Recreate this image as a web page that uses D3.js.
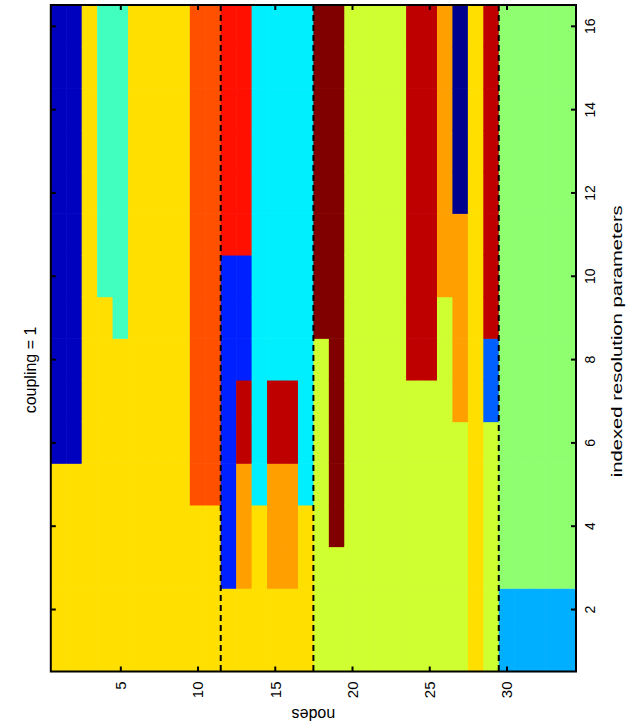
<!DOCTYPE html>
<html><head><meta charset="utf-8">
<script src="https://cdn.jsdelivr.net/npm/d3@7"></script>
<style>body{margin:0;background:#fff}svg{display:block}text{font-family:"Liberation Sans",Arial,sans-serif;fill:#000}</style>
</head><body><svg id="c" width="634" height="725"></svg>
<script>
// nodes and resolution indices
const nodes = [1,2,3,4,5,6,7,8,9,10,11,12,13,14,15,16,17,18,19,20,21,22,23,24,25,26,27,28,29,30,31,32,33,34];
const resolutions = [1,2,3,4,5,6,7,8,9,10,11,12,13,14,15,16];
// community assignment per node, one letter per resolution (1..16)
const assignments = [
  "JJJJJAAAAAAAAAAA","JJJJJAAAAAAAAAAA","JJJJJJJJJJJJJJJJ","JJJJJJJJJGGGGGGG","JJJJJJJJGGGGGGGG",
  "JJJJJJJJJJJJJJJJ","JJJJJJJJJJJJJJJJ","JJJJJJJJJJJJJJJJ","JJJJJJJJJJJJJJJJ","JJJJLLLLLLLLLLLL",
  "JJJJLLLLLLLLLLLL","JJCCCCCCCCMMMMMM","JJKKKNNCCCMMMMMM","JJJJFFFFFFFFFFFF","JJKKKNNFFFFFFFFF",
  "JJKKKNNFFFFFFFFF","JJJJFFFFFFFFFFFF","IIIIIIIIOOOOOOOO","IIIOOOOOOOOOOOOO","IIIIIIIIIIIIIIII",
  "IIIIIIIIIIIIIIII","IIIIIIIIIIIIIIII","IIIIIIIIIIIIIIII","IIIIIIINNNNNNNNN","IIIIIIINNNNNNNNN",
  "IIIIIIIIIKKKKKKK","IIIIIIKKKKKBBBBB","JJJJJJJJJJJJJJJJ","IIIIIIDDNNNNNNNN","EEHHHHHHHHHHHHHH",
  "EEHHHHHHHHHHHHHH","EEHHHHHHHHHHHHHH","EEHHHHHHHHHHHHHH","EEHHHHHHHHHHHHHH"
];
const communityCodes = ["A","B","C","D","E","F","G","H","I","J","K","L","M","N","O"];
const communityColors = ["#0000bf","#00008f","#0020ff","#0060ff","#00afff","#00efff","#40ffbf","#8fff70","#cfff30","#ffdf00","#ff9f00","#ff5000","#ff1000","#bf0000","#800000"];
const boundaries = [11.5, 17.5, 29.5];
const xTicks = [5,10,15,20,25,30];
const yTicks = [2,4,6,8,10,12,14,16];
const title = "coupling = 1";
const xLabel = "nodes";
const yLabel = "indexed resolution parameters";

const svg = d3.select("#c");
const L = 50.8, R = 576, T = 5, B = 671.5;
const x = d3.scaleLinear().domain([0.5, 34.5]).range([L, R]);
const y = d3.scaleLinear().domain([0.5, 16.5]).range([B, T]);
const color = d3.scaleOrdinal().domain(communityCodes).range(communityColors);

const cells = [];
nodes.forEach((n, i) => resolutions.forEach((r, j) => cells.push({n, r, c: assignments[i][j]})));
svg.append("g").selectAll("rect").data(cells).join("rect")
  .attr("x", d => x(d.n - 0.5))
  .attr("y", d => y(d.r + 0.5))
  .attr("width", d => x(d.n + 0.5) - x(d.n - 0.5) + 0.6)
  .attr("height", d => y(d.r - 0.5) - y(d.r + 0.5) + 0.6)
  .attr("fill", d => color(d.c));

svg.append("g").selectAll("line").data(boundaries).join("line")
  .attr("x1", d => x(d)).attr("x2", d => x(d))
  .attr("y1", T).attr("y2", B)
  .attr("stroke", "#000").attr("stroke-width", 2).attr("stroke-dasharray", "6,4");

const tk = 5;
const styleAxis = g => { g.select(".domain").remove(); g.selectAll(".tick line").attr("stroke", "#000").attr("stroke-width", 2); };
svg.append("g").attr("transform", `translate(0,${B})`)
  .call(d3.axisBottom(x).tickValues(xTicks).tickSizeInner(-tk).tickSizeOuter(0).tickPadding(0))
  .call(styleAxis)
  .call(g => g.selectAll(".tick text").attr("font-size", 15).attr("transform", "rotate(-90)")
     .attr("text-anchor", "end").attr("x", -10).attr("y", 0).attr("dy", "0.35em"));
svg.append("g").attr("transform", `translate(0,${T})`)
  .call(d3.axisTop(x).tickValues(xTicks).tickSizeInner(-tk).tickSizeOuter(0).tickFormat(""))
  .call(styleAxis);
svg.append("g").attr("transform", `translate(${L},0)`)
  .call(d3.axisLeft(y).tickValues(yTicks).tickSizeInner(-tk).tickSizeOuter(0).tickFormat(""))
  .call(styleAxis);
svg.append("g").attr("transform", `translate(${R},0)`)
  .call(d3.axisRight(y).tickValues(yTicks).tickSizeInner(-tk).tickSizeOuter(0))
  .call(styleAxis)
  .call(g => g.selectAll(".tick text").attr("font-size", 14).attr("transform", "rotate(-90)")
     .attr("text-anchor", "middle").attr("x", 0).attr("y", 19).attr("dy", 0));

svg.append("rect").attr("x", L).attr("y", T).attr("width", R - L).attr("height", B - T)
  .attr("fill", "none").attr("stroke", "#000").attr("stroke-width", 2);

svg.append("text").attr("transform", `translate(36,370) rotate(-90)`)
  .attr("text-anchor", "middle").attr("font-size", 16).text(title);
svg.append("text").attr("transform", `translate(${(L + R) / 2},709) rotate(180)`)
  .attr("text-anchor", "middle").attr("font-size", 16).text(xLabel);
svg.append("text").attr("transform", `translate(622,${(T + B) / 2 + 3}) rotate(-90)`)
  .attr("text-anchor", "middle").attr("font-size", 15)
  .attr("textLength", 272).attr("lengthAdjust", "spacingAndGlyphs").text(yLabel);
</script></body></html>
